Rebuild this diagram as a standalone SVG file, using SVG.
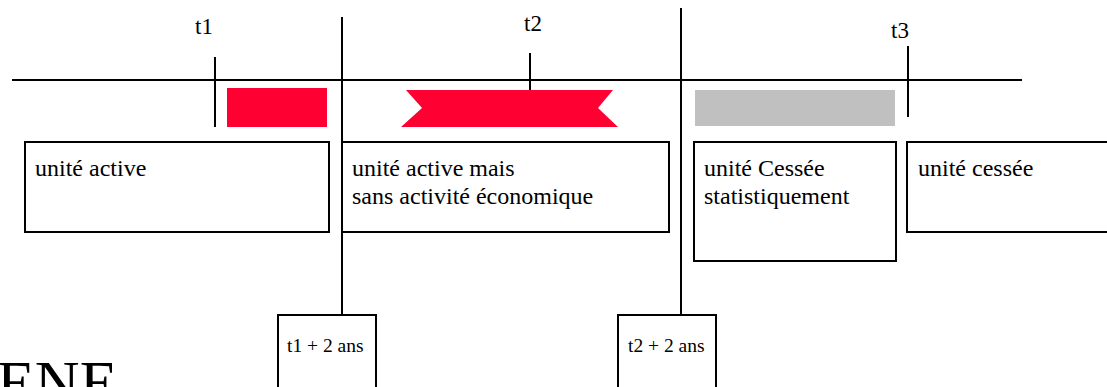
<svg xmlns="http://www.w3.org/2000/svg" width="1107" height="387" viewBox="0 0 1107 387">
<style>
.ln{stroke:#000;stroke-width:2;fill:none}
.box{fill:#fff;stroke:#000;stroke-width:2}
.tx{font-family:"Liberation Serif","Times New Roman",serif;font-size:24px;fill:#000}
.lb{font-family:"Liberation Serif","Times New Roman",serif;font-size:23px;fill:#000}
.sm{font-family:"Liberation Serif","Times New Roman",serif;font-size:19.5px;fill:#000}
</style>
<rect width="1107" height="387" fill="#fff"/>
<g id="connectors">
<line class="ln" x1="12" y1="80" x2="1022" y2="80"/>
<line class="ln" x1="215" y1="57" x2="215" y2="127"/>
<line class="ln" x1="530" y1="53" x2="530" y2="90"/>
<line class="ln" x1="908" y1="46" x2="908" y2="117"/>
<line class="ln" x1="342" y1="17" x2="342" y2="315"/>
<line class="ln" x1="681" y1="8" x2="681" y2="315"/>
</g>
<g id="labels">
<text class="lb" x="195" y="34">t1</text>
<text class="lb" x="524" y="31">t2</text>
<text class="lb" x="891" y="38">t3</text>
</g>
<g id="bars">
<rect x="227" y="88" width="100" height="39" fill="#FF0033"/>
<polygon points="406,90 613,90 598,108 618,127 401,127 422,108" fill="#FF0033"/>
<rect x="695" y="90" width="200" height="36" fill="#C0C0C0"/>
</g>
<g id="n1">
<rect class="box" x="25" y="142" width="304" height="90"/>
<text class="tx" x="35" y="176">unité active</text>
</g>
<g id="n2">
<rect class="box" x="342" y="142" width="327" height="90"/>
<text class="tx" x="352" y="176">unité active mais</text>
<text class="tx" x="352" y="204">sans activité économique</text>
</g>
<g id="n3">
<rect class="box" x="694" y="142" width="202" height="119"/>
<text class="tx" x="704" y="176">unité Cessée</text>
<text class="tx" x="704" y="204">statistiquement</text>
</g>
<g id="n4">
<rect class="box" x="907" y="142" width="210" height="90"/>
<text class="tx" x="918" y="176">unité cessée</text>
</g>
<g id="n5">
<rect class="box" x="278" y="315" width="98" height="90"/>
<text class="sm" x="287" y="352">t1 + 2 ans</text>
</g>
<g id="n6">
<rect class="box" x="618" y="315" width="98" height="90"/>
<text class="sm" x="628" y="352">t2 + 2 ans</text>
</g>
<text x="-3" y="403" style="font-family:'Liberation Serif','Times New Roman',serif;font-size:62px;fill:#000">ENE</text>
</svg>
